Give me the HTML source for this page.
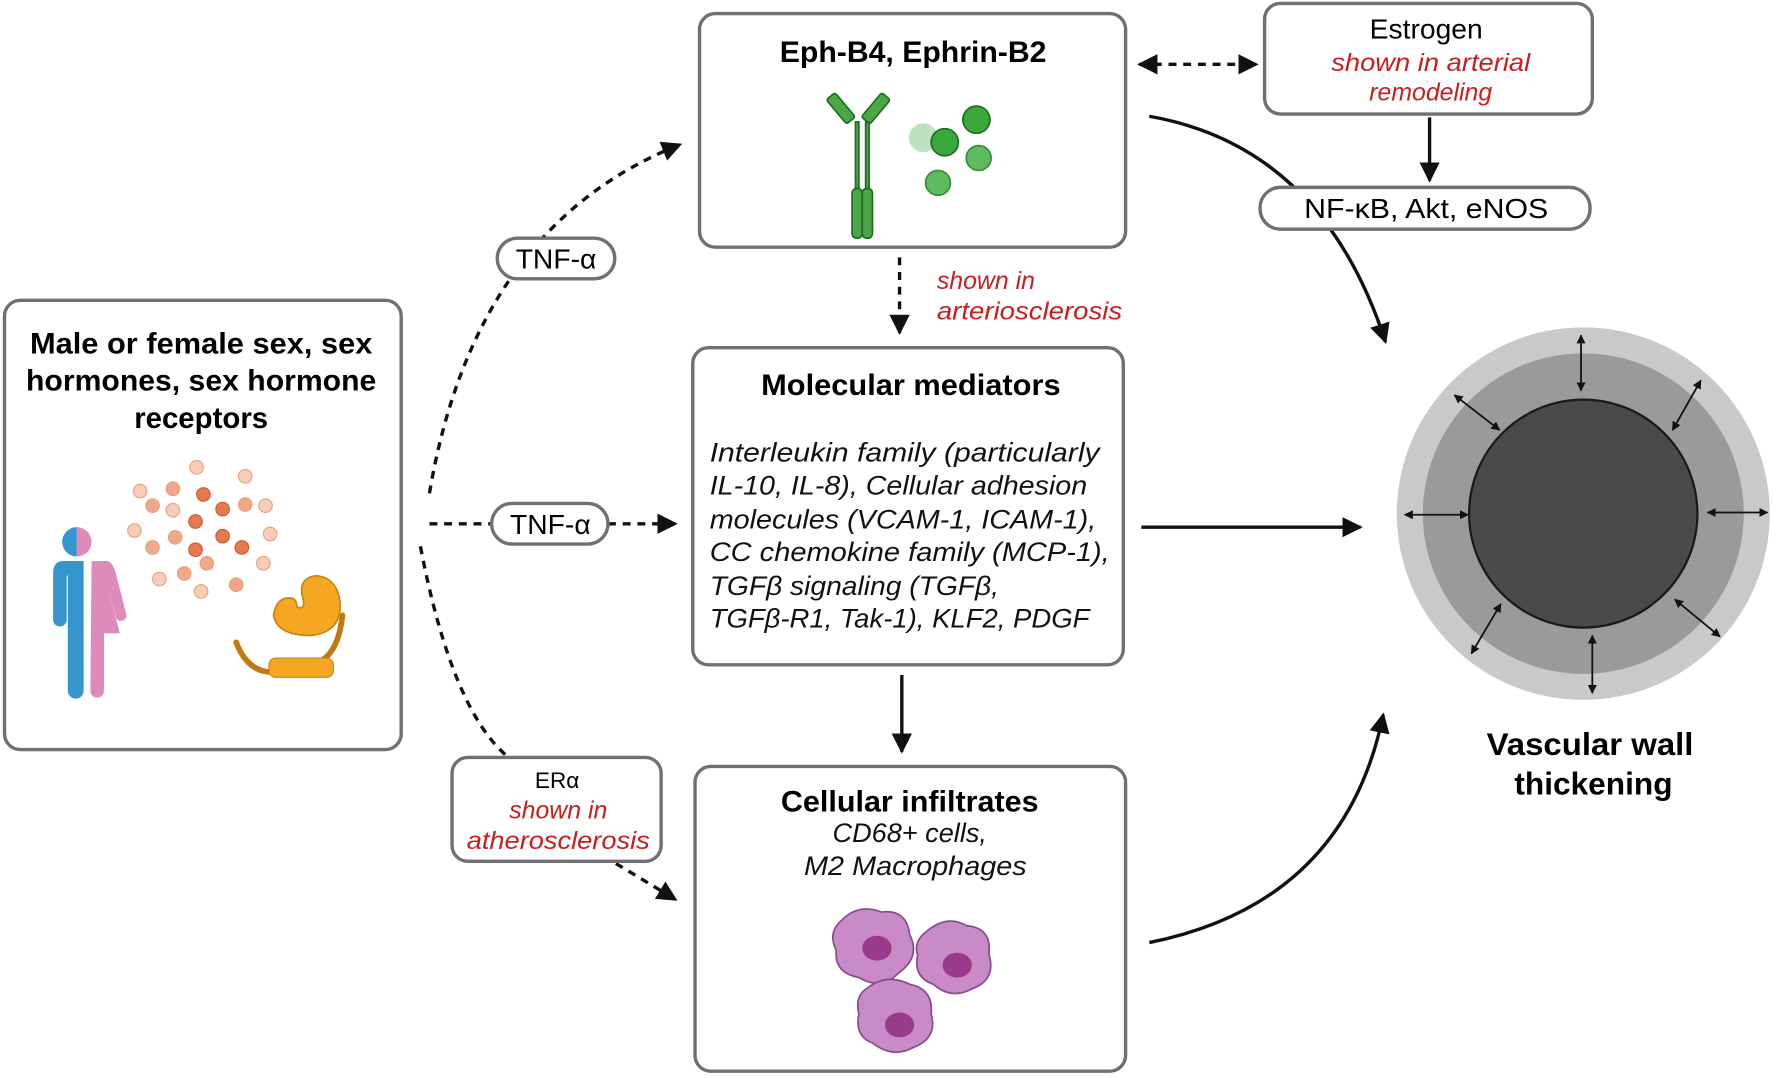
<!DOCTYPE html>
<html><head><meta charset="utf-8"><style>
html,body{margin:0;padding:0;background:#fff}
svg{display:block}
text{font-family:"Liberation Sans",sans-serif}
</style></head><body>
<svg width="1772" height="1078" viewBox="0 0 1568 955" preserveAspectRatio="none" xmlns="http://www.w3.org/2000/svg">
<defs>
<marker id="AH" viewBox="0 0 10 10" refX="9" refY="5" markerWidth="18" markerHeight="18" orient="auto-start-reverse" markerUnits="userSpaceOnUse"><path d="M0,0 L10,5 L0,10 z" fill="#111"/></marker>
<marker id="sm" viewBox="0 0 10 10" refX="9" refY="5" markerWidth="8" markerHeight="8" orient="auto-start-reverse" markerUnits="userSpaceOnUse"><path d="M0,0 L10,5 L0,10 z" fill="#111"/></marker>
</defs>
<!-- connectors -->
<g fill="none" stroke="#111" stroke-width="3">
<path d="M380,437 Q420,200 602,128" stroke-dasharray="7,6" marker-end="url(#AH)"/>
<path d="M380,464 L435,464" stroke-dasharray="7,6"/>
<path d="M538,464 L598,464" stroke-dasharray="7,6" marker-end="url(#AH)"/>
<path d="M372,484 Q400,630 450,671" stroke-dasharray="7,6"/>
<path d="M545,765 L598,797" stroke-dasharray="7,6" marker-end="url(#AH)"/>
<path d="M1008,57 L1112,57" stroke-dasharray="7,6" marker-start="url(#AH)" marker-end="url(#AH)"/>
<path d="M796,228 L796,295" stroke-dasharray="7,6" marker-end="url(#AH)"/>
<path d="M1265,104 L1265,160" marker-end="url(#AH)"/>
<path d="M798,598 L798,666" marker-end="url(#AH)"/>
<path d="M1010,467 L1204,467" marker-end="url(#AH)"/>
<path d="M1017,103 Q1170,130 1226,303" marker-end="url(#AH)"/>
<path d="M1017,835 Q1190,800 1224,633" marker-end="url(#AH)"/>
</g>
<g fill="#fff" stroke="#707070" stroke-width="3">
<rect x="4" y="266" width="351" height="398" rx="14"/>
<rect x="619" y="12" width="377" height="207" rx="14"/>
<rect x="1119" y="3" width="290" height="98" rx="14"/>
<rect x="1115" y="166" width="292" height="37" rx="18"/>
<rect x="613" y="308" width="381" height="281" rx="14"/>
<rect x="615" y="679" width="381" height="270" rx="14"/>
<rect x="400" y="671" width="185" height="92" rx="14"/>
<rect x="440" y="211" width="104" height="36" rx="18"/>
<rect x="435" y="446" width="103" height="36" rx="18"/>
</g>
<!-- vessel -->
<circle cx="1401" cy="455" r="165" fill="#c9c9c9"/>
<circle cx="1401" cy="455" r="142" fill="#9a9a9a"/>
<circle cx="1401" cy="455" r="101" fill="#4a4a4a" stroke="#1a1a1a" stroke-width="2"/>
<g stroke="#111" stroke-width="1.6" marker-start="url(#sm)" marker-end="url(#sm)">
<line x1="1399" y1="297" x2="1399" y2="346"/>
<line x1="1287" y1="350" x2="1327" y2="381"/>
<line x1="1505" y1="337" x2="1480" y2="381"/>
<line x1="1243" y1="456" x2="1299" y2="456"/>
<line x1="1511" y1="454" x2="1564" y2="454"/>
<line x1="1328" y1="535" x2="1302" y2="579"/>
<line x1="1482" y1="531" x2="1522" y2="564"/>
<line x1="1409" y1="563" x2="1409" y2="614"/>
</g>
<!-- text -->
<g font-weight="bold" fill="#000" text-anchor="middle" font-size="26">
<text x="178" y="313" textLength="303" lengthAdjust="spacingAndGlyphs">Male or female sex, sex</text>
<text x="178" y="346" textLength="310" lengthAdjust="spacingAndGlyphs">hormones, sex hormone</text>
<text x="178" y="379">receptors</text>
<text x="808" y="55" textLength="236" lengthAdjust="spacingAndGlyphs">Eph-B4, Ephrin-B2</text>
<text x="806" y="350" textLength="265" lengthAdjust="spacingAndGlyphs">Molecular mediators</text>
<text x="805" y="719" textLength="228" lengthAdjust="spacingAndGlyphs">Cellular infiltrates</text>
<text x="1407" y="669" font-size="28" textLength="183" lengthAdjust="spacingAndGlyphs">Vascular wall</text>
<text x="1410" y="704" font-size="28">thickening</text>
</g>
<g text-anchor="middle" font-size="25" fill="#000">
<text x="1262" y="34">Estrogen</text>
<text x="1262" y="193" textLength="216" lengthAdjust="spacingAndGlyphs">NF-κB, Akt, eNOS</text>
<text x="492" y="238">TNF-α</text>
<text x="487" y="473">TNF-α</text>
<text x="493" y="698" font-size="20">ERα</text>
</g>
<g text-anchor="middle" font-size="22" font-style="italic" fill="#c81e1e">
<text x="1266" y="63" textLength="176" lengthAdjust="spacingAndGlyphs">shown in arterial</text>
<text x="1266" y="89">remodeling</text>
<text x="494" y="725">shown in</text>
<text x="494" y="752" textLength="162" lengthAdjust="spacingAndGlyphs">atherosclerosis</text>
</g>
<g font-size="22" font-style="italic" fill="#c81e1e">
<text x="829" y="256">shown in</text>
<text x="829" y="283" textLength="164" lengthAdjust="spacingAndGlyphs">arteriosclerosis</text>
</g>
<g font-size="24" font-style="italic" fill="#111" lengthAdjust="spacingAndGlyphs">
<text x="628" y="409" textLength="345" lengthAdjust="spacingAndGlyphs">Interleukin family (particularly</text>
<text x="628" y="438" textLength="334" lengthAdjust="spacingAndGlyphs">IL-10, IL-8), Cellular adhesion</text>
<text x="628" y="468" textLength="342" lengthAdjust="spacingAndGlyphs">molecules (VCAM-1, ICAM-1),</text>
<text x="628" y="497" textLength="354" lengthAdjust="spacingAndGlyphs">CC chemokine family (MCP-1),</text>
<text x="628" y="527" textLength="256" lengthAdjust="spacingAndGlyphs">TGFβ signaling (TGFβ,</text>
<text x="628" y="556" textLength="336" lengthAdjust="spacingAndGlyphs">TGFβ-R1, Tak-1), KLF2, PDGF</text>
<text x="805" y="746" text-anchor="middle">CD68+ cells,</text>
<text x="810" y="775" text-anchor="middle" textLength="197" lengthAdjust="spacingAndGlyphs">M2 Macrophages</text>
</g>
<!-- person -->
<g>
<path d="M68,467 a13,13 0 0 0 0,26 z" fill="#3496cd"/>
<path d="M68,467 a13,13 0 0 1 0,26 z" fill="#de8bbb"/>
<path d="M60,562 L60,612 a7,7 0 0 0 14,0 L74,497 L56,497 Q47,497 47,508 L47,549 a6,6 0 0 0 12,0 L59,510 L60,510 Z" fill="#3496cd"/>
<path d="M81,497 L94,497 Q100,497 103,510 L112,545 a5,5 0 0 1 -9,3 L95,518 L106,561 L92,561 L92,612 a6,6 0 0 1 -12,0 Z" fill="#de8bbb"/>
</g>
<!-- hormone dots -->
<g stroke="#e8a080" stroke-width="1">
<g fill="#f6cdb8"><circle cx="174" cy="414" r="6"/><circle cx="217" cy="422" r="6"/><circle cx="124" cy="435" r="6"/><circle cx="153" cy="452" r="6"/><circle cx="235" cy="448" r="6"/><circle cx="119" cy="470" r="6"/><circle cx="239" cy="473" r="6"/><circle cx="233" cy="499" r="6"/><circle cx="141" cy="513" r="6"/><circle cx="178" cy="524" r="6"/></g>
<g fill="#f0a888"><circle cx="153" cy="433" r="6"/><circle cx="135" cy="448" r="6"/><circle cx="217" cy="447" r="6"/><circle cx="155" cy="476" r="6"/><circle cx="135" cy="485" r="6"/><circle cx="183" cy="499" r="6"/><circle cx="163" cy="508" r="6"/><circle cx="209" cy="518" r="6"/></g>
<g fill="#e8784e" stroke="#c85a30"><circle cx="180" cy="438" r="6"/><circle cx="197" cy="451" r="6"/><circle cx="173" cy="462" r="6"/><circle cx="197" cy="475" r="6"/><circle cx="173" cy="487" r="6"/><circle cx="214" cy="485" r="6"/></g>
</g>
<!-- receptor -->
<path d="M209,569 Q220,598 245,595 M285,585 Q300,575 303,545" fill="none" stroke="#c07a10" stroke-width="5" stroke-linecap="round"/>
<rect x="238" y="583" width="57" height="17" rx="6" fill="#f5a623" stroke="#c88510"/>
<path d="M258,530 Q245,528 242,545 Q245,563 275,563 Q302,560 301,535 Q299,512 280,510 Q263,512 268,530 Q271,540 263,538 Q262,530 258,530 Z" fill="#f5a623" stroke="#c88510" stroke-width="1.5"/>
<!-- antibody -->
<g fill="#4ca847" stroke="#1f6b1f" stroke-width="1.5">
<rect x="739" y="82" width="10" height="28" rx="2" transform="rotate(-40 744 96)"/>
<rect x="770" y="82" width="10" height="28" rx="2" transform="rotate(40 775 96)"/>
<rect x="757" y="108" width="3" height="85"/><rect x="766" y="108" width="3" height="85"/>
<rect x="754" y="167" width="9" height="44" rx="4"/><rect x="763" y="167" width="9" height="44" rx="4"/>
</g>
<g stroke="#1f6b1f" stroke-width="1.5">
<circle cx="817" cy="122" r="12" fill="#bde2be" stroke="#bde2be"/>
<circle cx="836" cy="126" r="12" fill="#3aa83a"/>
<circle cx="864" cy="106" r="12" fill="#3aa83a"/>
<circle cx="866" cy="140" r="11" fill="#5fbb60" stroke="#3a8a3a"/>
<circle cx="830" cy="162" r="11" fill="#5fbb60" stroke="#3a8a3a"/>
</g>
<!-- macrophages -->
<g fill="#c98ac8" stroke="#8a4a8a" stroke-width="1.5">
<path d="M745,815 Q760,800 780,808 Q802,805 805,828 Q815,848 795,862 Q780,878 760,866 Q738,862 740,842 Q732,826 745,815 Z"/>
<path d="M820,825 Q838,810 855,820 Q878,822 875,845 Q882,868 860,876 Q842,886 826,872 Q808,866 812,846 Q808,834 820,825 Z"/>
<path d="M768,875 Q785,862 805,872 Q826,876 824,898 Q830,920 808,928 Q790,938 772,924 Q756,918 760,898 Q756,882 768,875 Z"/>
</g>
<g fill="#9a3a8a"><ellipse cx="776" cy="840" rx="13" ry="11"/><ellipse cx="847" cy="855" rx="13" ry="11"/><ellipse cx="796" cy="908" rx="13" ry="11"/></g>
</svg>
</body></html>
